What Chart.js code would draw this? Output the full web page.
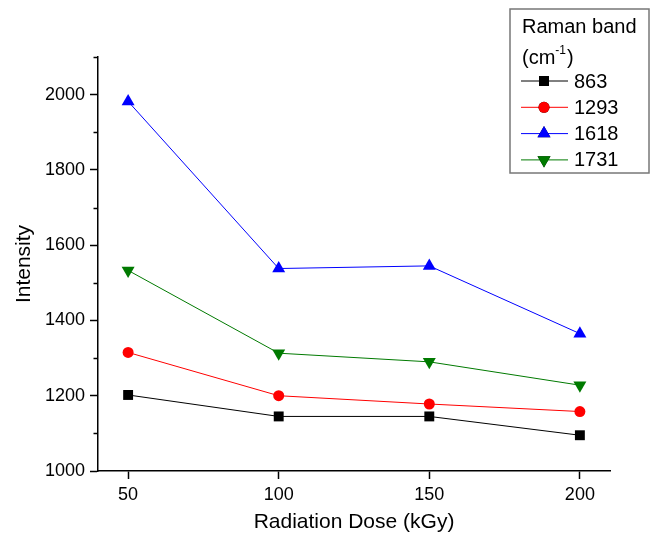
<html lang="en">

<head>
    <meta charset="UTF-8">
    <title>Raman band intensity vs radiation dose</title>
    <script src="https://cdn.jsdelivr.net/npm/chart.js"></script>
    <style>
      body {
          background-color: #fff;
          margin: 0;
      }

      #doseChart {
          display: block;
      }
    </style>
</head>

<body>
    <canvas id="doseChart" width="655" height="536"></canvas>
    <script>
        // Radiation dose (kGy) on the x axis
        const doses = [50, 100, 150, 200];
        const yTicks = [1000, 1100, 1200, 1300, 1400, 1500, 1600, 1700, 1800, 1900, 2000, 2100];

        // Intensity of each Raman band (cm-1)
        const bands = ['863', '1293', '1618', '1731'];
        const band863 = [1202, 1145, 1145, 1095];
        const band1293 = [1315, 1200, 1178, 1158];
        const band1618 = [1982, 1538, 1545, 1365];
        const band1731 = [1533, 1313, 1290, 1228];

        const FONT = 'Liberation Sans, Arial, sans-serif';

        function series(label, values, color, style, size, rotation) {
            return {
                label: label,
                data: values.map((v, i) => ({ x: doses[i], y: v })),
                borderColor: color,
                backgroundColor: color,
                borderWidth: 1,
                pointStyle: style,
                pointRadius: size,
                pointRotation: rotation || 0,
                pointBorderWidth: 0,
                pointHoverRadius: size,
                tension: 0
            };
        }

        const datasets = [
            series(bands[0], band863, '#000000', 'rect', 7),
            series(bands[1], band1293, '#ff0000', 'circle', 5.5),
            series(bands[2], band1618, '#0000ff', 'triangle', 7.5),
            series(bands[3], band1731, '#007a00', 'triangle', 7.5, 180)
        ];

        // short ticks at the odd hundreds of the intensity axis
        const minorTicks = {
            id: 'minorTicks',
            afterDraw(chart) {
                const y = chart.scales.y;
                const c = chart.ctx;
                c.save();
                c.strokeStyle = '#000';
                c.lineWidth = 1.5;
                yTicks.filter(v => v % 200 !== 0).forEach(v => {
                    const py = Math.round(y.getPixelForValue(v)) + 0.5;
                    c.beginPath();
                    c.moveTo(chart.chartArea.left, py);
                    c.lineTo(chart.chartArea.left - 4.5, py);
                    c.stroke();
                });
                c.restore();
            }
        };

        // boxed legend with a two-line title in the upper right
        const bandLegend = {
            id: 'bandLegend',
            afterDraw(chart) {
                const c = chart.ctx;
                const left = 510, top = 9, width = 139, height = 164;
                c.save();
                c.fillStyle = '#fff';
                c.fillRect(left, top, width, height);
                c.strokeStyle = '#777';
                c.lineWidth = 1.5;
                c.strokeRect(left, top, width, height);

                c.fillStyle = '#000';
                c.textBaseline = 'middle';
                c.textAlign = 'left';
                c.font = '20px ' + FONT;
                c.fillText('Raman band', left + 12, top + 18);
                c.fillText('(cm', left + 12, top + 49);
                const cmW = c.measureText('(cm').width;
                c.font = '12px ' + FONT;
                c.fillText('-1', left + 12 + cmW, top + 42);
                const supW = c.measureText('-1').width;
                c.font = '20px ' + FONT;
                c.fillText(')', left + 13 + cmW + supW, top + 49);

                chart.data.datasets.forEach((ds, i) => {
                    const ry = top + 72 + i * 26.3;
                    c.strokeStyle = ds.borderColor;
                    c.lineWidth = 1;
                    c.beginPath();
                    c.moveTo(left + 11, ry);
                    c.lineTo(left + 58, ry);
                    c.stroke();
                    Chart.helpers.drawPoint(c, {
                        pointStyle: ds.pointStyle,
                        radius: ds.pointRadius,
                        rotation: ds.pointRotation,
                        borderWidth: 0
                    }, left + 34, ry);
                    c.fillStyle = ds.backgroundColor;
                    c.fill();
                    c.fillStyle = '#000';
                    c.font = '20px ' + FONT;
                    c.fillText(ds.label, left + 64, ry + 1);
                });
                c.restore();
            }
        };

        const ctx = document.getElementById('doseChart').getContext('2d');
        const chart = new Chart(ctx, {
            type: 'line',
            data: { datasets: datasets },
            options: {
                responsive: false,
                animation: false,
                layout: { padding: { top: 57, right: 45, left: 0, bottom: 0 } },
                plugins: {
                    legend: { display: false },
                    tooltip: { enabled: false }
                },
                scales: {
                    x: {
                        type: 'linear',
                        min: 40,
                        max: 210,
                        afterBuildTicks: s => { s.ticks = doses.map(v => ({ value: v })); },
                        afterFit: s => { s.height = 65; },
                        border: { display: true, color: '#000', width: 1.5 },
                        grid: { drawOnChartArea: false, drawTicks: true, tickLength: 8, tickColor: '#000', tickWidth: 1.5 },
                        ticks: { color: '#000', padding: 5, maxRotation: 0, font: { family: FONT, size: 18 } },
                        title: {
                            display: true,
                            text: 'Radiation Dose (kGy)',
                            color: '#000',
                            padding: { top: 0, bottom: 1 },
                            font: { family: FONT, size: 21 }
                        }
                    },
                    y: {
                        min: 1000,
                        max: 2100,
                        afterBuildTicks: s => { s.ticks = yTicks.map(v => ({ value: v })); },
                        afterFit: s => { s.width = 98; },
                        border: { display: true, color: '#000', width: 1.5 },
                        grid: {
                            drawOnChartArea: false,
                            drawTicks: true,
                            tickLength: 8,
                            tickWidth: 1.5,
                            tickColor: c => (c.tick && c.tick.value % 200 === 0) ? '#000' : 'rgba(0,0,0,0)'
                        },
                        ticks: {
                            color: '#000',
                            padding: 5,
                            font: { family: FONT, size: 18 },
                            callback: v => (v % 200 === 0 ? v : '')
                        },
                        title: {
                            display: true,
                            text: 'Intensity',
                            color: '#000',
                            padding: { top: 12, bottom: 0 },
                            font: { family: FONT, size: 21 }
                        }
                    }
                }
            },
            plugins: [minorTicks, bandLegend]
        });
    </script>
</body>

</html>
